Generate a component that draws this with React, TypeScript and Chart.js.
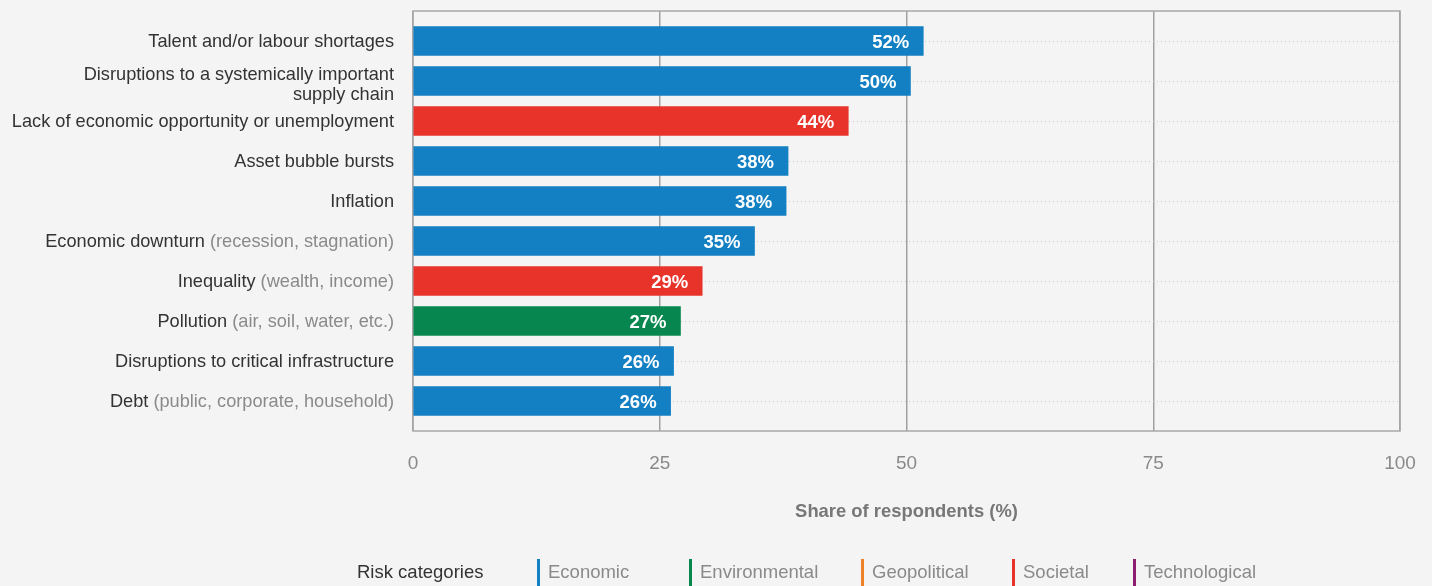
import React, { useEffect, useRef } from "react";
import { Chart, registerables } from "chart.js";

Chart.register(...registerables);

const categories: (string | string[])[] = [
  "Talent and/or labour shortages",
  ["Disruptions to a systemically important", "supply chain"],
  "Lack of economic opportunity or unemployment",
  "Asset bubble bursts",
  "Inflation",
  "Economic downturn",
  "Inequality",
  "Pollution",
  "Disruptions to critical infrastructure",
  "Debt",
];
const subLabels = [
  "",
  "",
  "",
  "",
  "",
  " (recession, stagnation)",
  " (wealth, income)",
  " (air, soil, water, etc.)",
  "",
  " (public, corporate, household)",
];
const values = [51.7, 50.4, 44.1, 38.0, 37.8, 34.6, 29.3, 27.1, 26.4, 26.1];
const riskTypes = [
  "Economic",
  "Economic",
  "Societal",
  "Economic",
  "Economic",
  "Economic",
  "Societal",
  "Environmental",
  "Economic",
  "Economic",
];
const legendCategories = ["Economic", "Environmental", "Geopolitical", "Societal", "Technological"];
const legendColors = ["#1380c3", "#07874f", "#f08127", "#e8332a", "#8c1d6f"];
const xTickValues = [0, 25, 50, 75, 100];
const axisTitle = "Share of respondents (%)";
const legendTitle = "Risk categories";

const FONT = "'Liberation Sans', Arial, sans-serif";
const DARK = "#333333";
const GREY = "#8a8a8a";

const colorFor = (t: string) => legendColors[legendCategories.indexOf(t)];

const overlay = {
  id: "overlay",
  beforeDatasetsDraw(chart: any) {
    const { ctx, chartArea } = chart;
    ctx.save();
    ctx.strokeStyle = "#a8a8a8";
    ctx.lineWidth = 1.5;
    ctx.strokeRect(chartArea.left, chartArea.top, chartArea.right - chartArea.left, chartArea.bottom - chartArea.top);
    ctx.restore();
  },
  afterDatasetsDraw(chart: any) {
    const { ctx } = chart;
    const meta = chart.getDatasetMeta(0);
    ctx.save();
    ctx.font = `bold 18.5px ${FONT}`;
    ctx.fillStyle = "#ffffff";
    ctx.textAlign = "right";
    ctx.textBaseline = "middle";
    meta.data.forEach((el: any, i: number) => {
      ctx.fillText(`${Math.round(values[i])}%`, el.x - 14, el.y + 1.5);
    });
    ctx.restore();
  },
  afterDraw(chart: any) {
    const { ctx, chartArea } = chart;
    const yScale = chart.scales.y;
    const xScale = chart.scales.x;
    ctx.save();
    ctx.font = `18.2px ${FONT}`;
    ctx.textBaseline = "middle";
    ctx.textAlign = "right";
    const rightX = chartArea.left - 19;
    categories.forEach((label, i) => {
      const y = yScale.getPixelForValue(i) + 1;
      if (Array.isArray(label)) {
        const lh = 19.5;
        const start = y + 3 - ((label.length - 1) * lh) / 2;
        ctx.fillStyle = DARK;
        label.forEach((ln, k) => ctx.fillText(ln, rightX, start + k * lh));
      } else {
        const sub = subLabels[i];
        let x = rightX;
        if (sub) {
          ctx.fillStyle = GREY;
          ctx.fillText(sub, x, y);
          x -= ctx.measureText(sub).width;
        }
        ctx.fillStyle = DARK;
        ctx.fillText(label, x, y);
      }
    });

    // x tick labels
    ctx.font = `19px ${FONT}`;
    ctx.fillStyle = GREY;
    ctx.textAlign = "center";
    xTickValues.forEach((v) => {
      ctx.fillText(String(v), xScale.getPixelForValue(v), chartArea.bottom + 33);
    });

    // axis title
    ctx.font = `bold 18.4px ${FONT}`;
    ctx.fillStyle = "#777777";
    ctx.textAlign = "center";
    ctx.fillText(axisTitle, (chartArea.left + chartArea.right) / 2, 512);

    // legend
    ctx.font = `18.5px ${FONT}`;
    ctx.textAlign = "left";
    ctx.fillStyle = DARK;
    ctx.fillText(legendTitle, 357, 573);
    const barXs = [537, 689, 861, 1012, 1133];
    legendCategories.forEach((c, i) => {
      ctx.fillStyle = legendColors[i];
      ctx.fillRect(barXs[i], 559, 3, 27);
      ctx.fillStyle = GREY;
      ctx.fillText(c, barXs[i] + 11, 573);
    });
    ctx.restore();
  },
};

export default function App() {
  const ref = useRef<HTMLCanvasElement | null>(null);

  useEffect(() => {
    document.body.style.margin = "0";
    document.body.style.background = "#f4f4f4";
    const canvas = ref.current;
    if (!canvas) return;
    const chart = new Chart(canvas, {
      type: "bar",
      data: {
        datasets: [
          {
            data: values.map((v, i) => ({ x: v, y: i })) as any,
            backgroundColor: riskTypes.map(colorFor),
            barThickness: 29,
            borderWidth: 0,
          },
        ],
      },
      options: {
        indexAxis: "y",
        responsive: false,
        animation: false,
        devicePixelRatio: 1,
        layout: { padding: { left: 413, right: 32, top: 11, bottom: 155 } },
        plugins: { legend: { display: false }, tooltip: { enabled: false } },
        scales: {
          x: {
            type: "linear",
            min: 0,
            max: 100,
            afterBuildTicks: (s: any) => {
              s.ticks = xTickValues.map((v) => ({ value: v }));
            },
            ticks: { display: false },
            grid: { color: "#a0a0a0", lineWidth: 1.5, drawTicks: false },
            border: { display: false },
          },
          y: {
            type: "linear",
            reverse: true,
            offset: false,
            min: -0.75,
            max: 9.75,
            afterBuildTicks: (s: any) => {
              s.ticks = categories.map((_, i) => ({ value: i }));
            },
            ticks: { display: false },
            grid: { color: "#c8c8c8", lineWidth: 1, drawTicks: false, offset: false },
            border: { display: false, dash: [1, 3] },
          },
        },
      },
      plugins: [overlay],
    } as any);
    return () => chart.destroy();
  }, []);

  return (
    <div style={{ width: 1432, height: 586 }}>
      <canvas ref={ref} width={1432} height={586} style={{ display: "block" }} />
    </div>
  );
}
